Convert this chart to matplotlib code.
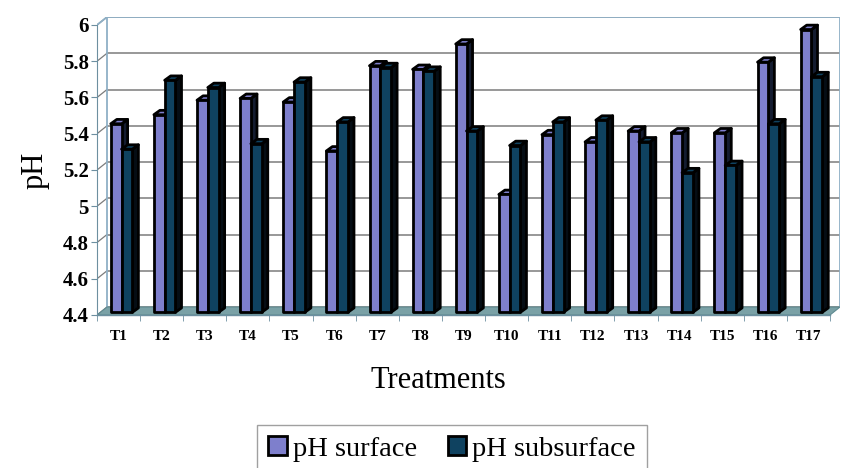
import numpy as np
import matplotlib.pyplot as plt
from matplotlib.patches import Polygon, Patch

plt.rcParams['font.family'] = ['Liberation Serif', 'DejaVu Serif']

treatments = ['T%d' % k for k in range(1, 18)]
ph_surface = [5.44, 5.49, 5.57, 5.58, 5.56, 5.29, 5.76, 5.74, 5.88,
              5.05, 5.38, 5.34, 5.40, 5.39, 5.39, 5.78, 5.96]
ph_subsurface = [5.30, 5.68, 5.64, 5.33, 5.67, 5.45, 5.75, 5.73, 5.40,
                 5.32, 5.45, 5.46, 5.34, 5.17, 5.21, 5.44, 5.70]
yticks = [4.4, 4.6, 4.8, 5.0, 5.2, 5.4, 5.6, 5.8, 6.0]
ytick_labels = ['4.4', '4.6', '4.8', '5', '5.2', '5.4', '5.6', '5.8', '6']

c_surf = '#7e7fcc'
c_sub = '#0f4260'
c_wall = '#8fb0c6'
c_grid = '#7c7c7c'
c_floor = '#7aa1a6'

ymin, ymax = 4.4, 6.0
n = len(treatments)
# depth of the wall in data units (x in categories, y in pH)
dx, dy = 0.232, 0.044
# bars sit inside the depth
fx, fy = 0.07, 0.015
bdx, bdy = 0.14, 0.024
bw = 0.25


def box(ax, x0, val, color, side):
    y0 = ymin + fy
    x0 = x0 + fx
    x1 = x0 + bw
    top = val + fy
    # right side face
    ax.add_patch(Polygon([(x1, y0), (x1 + bdx, y0 + bdy), (x1 + bdx, top + bdy), (x1, top)],
                         closed=True, fc=side, ec='black', lw=2.0, zorder=3,
                         joinstyle='round'))
    # top face
    ax.add_patch(Polygon([(x0, top), (x1, top), (x1 + bdx, top + bdy), (x0 + bdx, top + bdy)],
                         closed=True, fc=color, ec='black', lw=2.0, zorder=3,
                         joinstyle='round'))
    # front face
    ax.add_patch(Polygon([(x0, y0), (x1, y0), (x1, top), (x0, top)],
                         closed=True, fc=color, ec='black', lw=2.0, zorder=3,
                         joinstyle='round'))


fig = plt.figure(figsize=(8.44, 4.68), dpi=100)
ax = fig.add_axes([97 / 844, 1 - 315 / 468, (840 - 97) / 844, (315 - 17) / 468])
ax.set_xlim(0, n + dx)
ax.set_ylim(ymin, ymax + dy)

# back wall with gridlines
for v in yticks:
    ax.plot([dx, n + dx], [v + dy, v + dy], color=c_grid, lw=1.1, zorder=1)
    ax.plot([0, dx], [v, v + dy], color=c_grid, lw=0.9, zorder=1)
ax.plot([dx, n + dx], [ymax + dy, ymax + dy], color=c_wall, lw=1.3, zorder=1)
ax.plot([dx, dx], [ymin + dy, ymax + dy], color=c_wall, lw=1.3, zorder=1)
ax.plot([n + dx, n + dx], [ymin + dy, ymax + dy], color=c_wall, lw=1.3, zorder=1)
ax.plot([0, dx], [ymax, ymax + dy], color=c_wall, lw=1.3, zorder=1)

# floor
ax.add_patch(Polygon([(0, ymin), (n, ymin), (n + dx, ymin + dy), (dx, ymin + dy)],
                     closed=True, fc=c_floor, ec='#5f8a90', lw=0.8, zorder=2))

for i in range(n):
    box(ax, i + 0.25, ph_surface[i], c_surf, '#141c30')
    box(ax, i + 0.5, ph_subsurface[i], c_sub, '#050d14')

# front bottom edge
ax.plot([0, n], [ymin, ymin], color='#6d8fa0', lw=1.0, zorder=4, clip_on=False)

ax.spines['top'].set_visible(False)
ax.spines['right'].set_visible(False)
ax.spines['bottom'].set_visible(False)
ax.spines['left'].set_color('#6d8fa0')
ax.spines['left'].set_bounds(ymin, ymax)

ax.set_yticks(yticks)
ax.set_yticklabels(ytick_labels, fontsize=15, fontweight='bold')
ax.tick_params(axis='y', length=4, color='#6d8fa0', pad=2)

ax.set_xticks(np.arange(n) + 0.5)
ax.set_xticklabels(treatments, fontsize=11, fontweight='bold')
ax.set_xticks(np.arange(n + 1), minor=True)
ax.tick_params(axis='x', which='major', length=0, pad=11)
ax.tick_params(axis='x', which='minor', length=4, color='#6d8fa0')

fig.text(35 / 844, 1 - 170 / 468, 'pH', rotation=90, fontsize=22,
         ha='center', va='center')
fig.text(438 / 844, 1 - 380 / 468, 'Treatments', fontsize=22,
         ha='center', va='center')

handles = [Patch(fc=c_surf, ec='black', lw=2.0), Patch(fc=c_sub, ec='black', lw=2.0)]
leg = fig.legend(handles, ['pH surface', 'pH subsurface'], ncol=2,
                 loc='upper center', bbox_to_anchor=(452 / 844, 1 - 425 / 468),
                 fontsize=20.5, frameon=True, fancybox=False, edgecolor='#888888',
                 handlelength=0.65, handleheight=0.65, handletextpad=0.2,
                 columnspacing=1.1, borderpad=0.4, borderaxespad=0)
leg.get_frame().set_linewidth(1.0)

fig.savefig('out.png', dpi=100)
